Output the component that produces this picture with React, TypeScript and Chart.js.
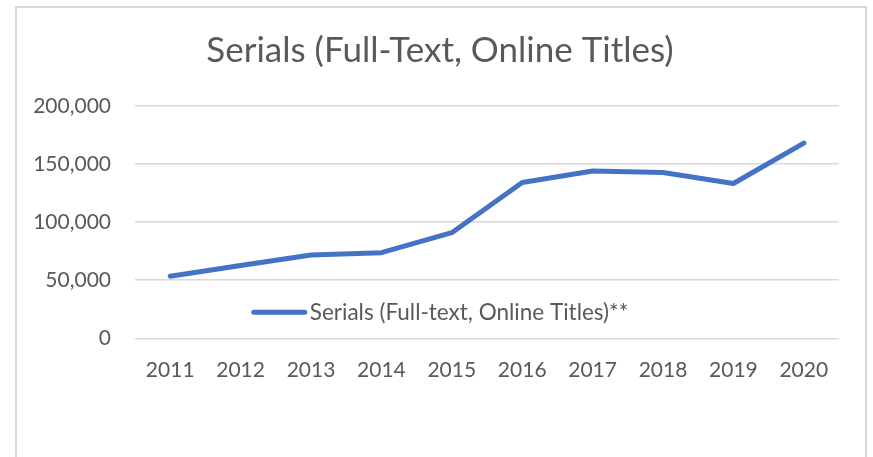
import React, { useEffect, useRef } from "react";
import { Chart, registerables } from "chart.js";

Chart.register(...registerables);

const chartTitle = "Serials (Full-Text, Online Titles)";
const seriesLabel = "Serials (Full-text, Online Titles)**";
const years = ["2011", "2012", "2013", "2014", "2015", "2016", "2017", "2018", "2019", "2020"];
const serials = [53500, 62700, 71800, 73700, 90900, 134100, 144100, 142700, 133300, 168100];
const yTicks = [0, 50000, 100000, 150000, 200000];

const FONT = "Lato";
const TEXT = "#595959";
const LINE = "#4472C4";

// Shift the title's box so it is centred over the frame, as in the reference.
const titleShift = {
  id: "titleShift",
  afterLayout(chart: any) {
    const tb = chart.titleBlock;
    if (tb) tb.left = tb.left + 41;
  },
};

const insideLegend = {
  id: "insideLegend",
  afterDraw(chart: any) {
    const ctx = chart.ctx;
    const ds = chart.data.datasets[0];
    const area = chart.chartArea;
    const tb = chart.titleBlock;
    ctx.save();
    ctx.font = `22.5px ${FONT}`;
    const text = ds.label as string;
    const tw = ctx.measureText(text).width;
    const sample = 55;
    const gap = 3;
    const total = sample + gap + tw;
    const cx = (tb.left + tb.right) / 2;
    const x0 = cx - total / 2;
    const y = area.bottom - 26;
    ctx.strokeStyle = ds.borderColor;
    ctx.lineWidth = 5;
    ctx.lineCap = "round";
    ctx.beginPath();
    ctx.moveTo(x0 + 2, y);
    ctx.lineTo(x0 + sample - 2, y);
    ctx.stroke();
    ctx.fillStyle = TEXT;
    ctx.textBaseline = "middle";
    ctx.textAlign = "left";
    ctx.fillText(text, x0 + sample + gap, y);
    ctx.restore();
  },
};

export default function App() {
  const ref = useRef<HTMLCanvasElement | null>(null);

  useEffect(() => {
    if (!ref.current) return;
    const chart = new Chart(ref.current, {
      type: "line",
      data: {
        labels: years,
        datasets: [
          {
            label: seriesLabel,
            data: serials,
            borderColor: LINE,
            backgroundColor: LINE,
            borderWidth: 5,
            pointRadius: 0,
            pointHoverRadius: 0,
            tension: 0,
            borderCapStyle: "round",
            borderJoinStyle: "round",
          },
        ],
      },
      options: {
        responsive: false,
        animation: false,
        layout: { padding: { top: 0, left: 0, right: 34, bottom: 63.5 } },
        plugins: {
          legend: { display: false },
          tooltip: { enabled: false },
          title: {
            display: true,
            text: chartTitle,
            color: TEXT,
            font: { family: FONT, size: 35, weight: "normal" },
            padding: { top: 30, bottom: 34 },
          },
        },
        scales: {
          x: {
            offset: true,
            grid: { display: false },
            border: { display: false },
            ticks: {
              color: TEXT,
              font: { family: FONT, size: 21 },
              padding: 11,
              maxRotation: 0,
            },
          },
          y: {
            min: 0,
            max: 200000,
            afterFit: (s: any) => {
              s.width = 135;
            },
            afterBuildTicks: (s: any) => {
              s.ticks = yTicks.map((v) => ({ value: v }));
            },
            grid: { color: "#d9d9d9", lineWidth: 1.5, drawTicks: false },
            border: { display: false },
            ticks: {
              color: TEXT,
              font: { family: FONT, size: 21 },
              padding: 24,
              callback: (v: any) => Number(v).toLocaleString("en-US"),
            },
          },
        },
      },
      plugins: [titleShift, insideLegend],
    });
    return () => chart.destroy();
  }, []);

  return (
    <div style={{ position: "fixed", left: 0, top: 0, width: 873, height: 457, overflow: "hidden", background: "#fff" }}>
      <div
        style={{
          position: "absolute",
          left: 15,
          top: 6,
          width: 852,
          height: 500,
          border: "2px solid #d9d9d9",
          boxSizing: "border-box",
        }}
      />
      <canvas ref={ref} width={873} height={457} style={{ position: "absolute", left: 0, top: 0 }} />
    </div>
  );
}
